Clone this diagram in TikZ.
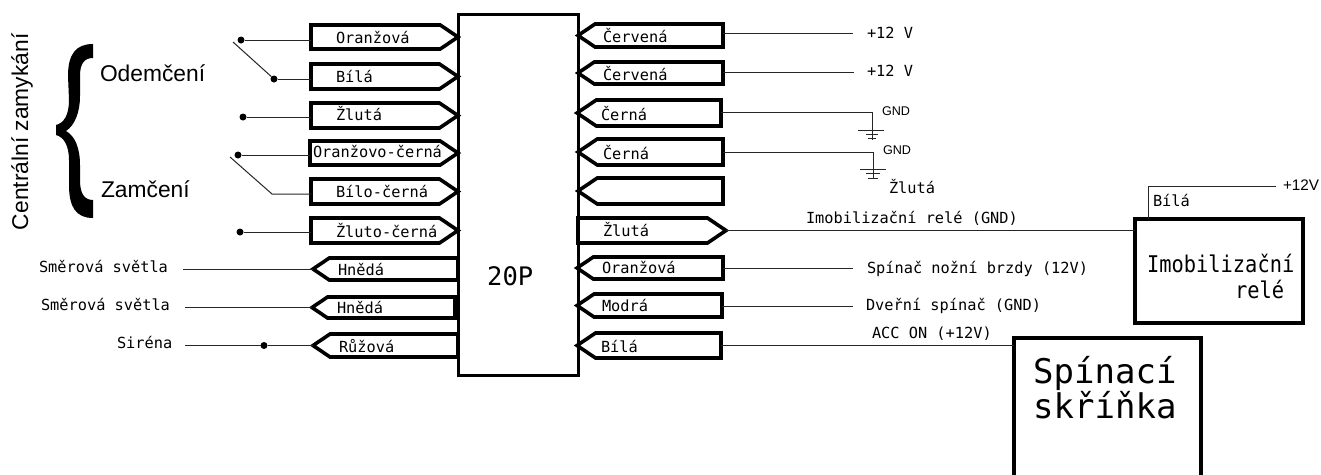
\documentclass[tikz,border=0pt]{standalone}
\usepackage{fontspec}
\setmainfont{Liberation Sans}
\setmonofont{DejaVu Sans Mono}
\usetikzlibrary{shapes.symbols,calc}
\tikzset{
  x=1pt,y=-1pt,
  sigbase/.style={shape=signal,draw=black,line width=3.6pt,fill=white,inner sep=0pt,outer sep=0pt,
     signal from=nowhere,signal pointer angle=68,miter limit=10},
  toE/.style={sigbase,signal to=east,anchor=east},
  toW/.style={sigbase,signal to=west,anchor=west},
  mono/.style={font=\ttfamily\fontsize{15.3}{18}\selectfont,anchor=base west,inner sep=0pt,outer sep=0pt},
  sans/.style={font=\fontsize{22.8}{26}\selectfont,anchor=base west,inner sep=0pt,outer sep=0pt},
  small/.style={font=\fontsize{12.6}{15}\selectfont,anchor=base west,inner sep=0pt,outer sep=0pt},
  wire/.style={draw=black!85,line width=1pt},
  dotn/.style={circle,fill=black,inner sep=0pt,outer sep=0pt,minimum size=7pt},
  heavy/.style={draw=black,line width=3.4pt,inner sep=0pt,outer sep=0pt,fill=white},
}
% name, x1, x2, ytop, ybot, text x, baseline y, text
\newcommand{\tagE}[8]{%
  \node[toE,minimum width=#3pt-#2pt,minimum height=#5pt-#4pt] (#1) at (#3,{(#4+#5)/2}) {};
  \node[mono] (#1t) at (#6,#7) {#8};
}
\newcommand{\tagW}[8]{%
  \node[toW,minimum width=#3pt-#2pt,minimum height=#5pt-#4pt] (#1) at (#2,{(#4+#5)/2}) {};
  \node[mono] (#1t) at (#6,#7) {#8};
}
\begin{document}
\begin{tikzpicture}
\clip (0,0) rectangle (1321,474);
\useasboundingbox (0,0) rectangle (1321,474);
\fill[white] (0,0) rectangle (1321,474);

% main connector
\node[heavy,minimum width=120pt,minimum height=361pt,line width=3pt] (main) at (518,194.5) {};
\node[font=\ttfamily\fontsize{25.5}{28}\selectfont,anchor=base west,inner sep=0pt] (mainl) at (487,285) {20P};

% left tags
\tagE{lA}{311}{458}{25}{49}{336}{43}{Oranžová}
\tagE{lB}{311}{458}{64}{89}{336}{82}{Bílá}
\tagE{lC}{311}{458}{103}{128}{336}{120}{Žlutá}
\tagE{lD}{310}{458}{141}{165}{313}{157}{Oranžovo-černá}
\tagE{lE}{311}{458}{179}{204}{336}{197}{Bílo-černá}
\tagE{lF}{311}{458}{218}{243}{336}{237}{Žluto-černá}
\tagW{lG}{313}{458}{258}{280}{338}{275}{Hnědá}
\tagW{lH}{312}{455}{297}{318}{337}{313}{Hnědá}
\tagW{lI}{313}{458}{334}{357}{339}{352}{Růžová}

% right tags
\tagW{rA}{578}{723}{24}{47}{603}{42}{Červená}
\tagW{rB}{578}{723}{62}{84}{603}{80}{Červená}
\tagW{rC}{577}{721}{100}{126}{601}{120}{Černá}
\tagW{rD}{578}{723}{139}{165}{603}{159}{Černá}
\node[toW,minimum width=145pt,minimum height=26pt] (rE) at (578,191) {};
\tagE{rF}{578}{726}{218}{243}{603}{236}{Žlutá}
\tagW{rG}{577}{723}{257}{279}{602}{273}{Oranžová}
\tagW{rH}{577}{722}{294}{317}{602}{311}{Modrá}
\tagW{rI}{577}{721}{333}{358}{601}{352}{Bílá}

% boxes
\node[heavy,minimum width=168pt,minimum height=104pt] (relay) at (1219,271) {};
\node[heavy,minimum width=187pt,minimum height=150pt] (switch) at (1107.5,413) {};
\node[font=\ttfamily\fontsize{23}{26}\selectfont,anchor=base west,inner sep=0pt] (relayA) at (1147,272) {\scalebox{.885}[1]{Imobilizační}};
\node[font=\ttfamily\fontsize{23}{26}\selectfont,anchor=base west,inner sep=0pt] (relayB) at (1235,298) {\scalebox{.885}[1]{relé}};
\node[font=\ttfamily\fontsize{34}{38}\selectfont,anchor=base west,inner sep=0pt] (swA) at (1033,383) {Spínací};
\node[font=\ttfamily\fontsize{34}{38}\selectfont,anchor=base west,inner sep=0pt] (swB) at (1033,418) {skříňka};

% left dots and wires
\node[dotn] (dA) at (241,40) {};
\node[dotn] (dB) at (274,79) {};
\node[dotn] (dC) at (243,117) {};
\node[dotn] (dD) at (238,155) {};
\node[dotn] (dF) at (240,232) {};
\node[dotn] (dI) at (264,345.5) {};
\coordinate (kA) at (233,42);
\coordinate (kD) at (230,157);
\coordinate (kE) at (272,194);
\coordinate (eG) at (183,269);
\coordinate (eH) at (185,307.5);
\coordinate (eI) at (185,345.5);
\draw[wire] (dA) -- (dA -| lA.west);
\draw[wire] (kA) -- (dB);
\draw[wire] (dB) -- (dB -| lB.west);
\draw[wire] (dC) -- (dC -| lC.west);
\draw[wire] (dD) -- (dD -| lD.west);
\draw[wire] (kD) -- (kE) -- (kE -| lE.west);
\draw[wire] (dF) -- (dF -| lF.west);
\draw[wire] (eG) -- (lG.west);
\draw[wire] (eH) -- (lH.west);
\draw[wire] (eI) -- (dI) -- (lI.west);

% right wires
\coordinate (eA) at (853,33);
\coordinate (eB) at (854,72);
\coordinate (gC) at (872,112);
\coordinate (gC2) at (872,140);
\coordinate (gD) at (873,152);
\coordinate (gD2) at (873,178);
\coordinate (eOr) at (853,268);
\coordinate (eMo) at (853,306);
\coordinate (kUp) at (1148,186);
\coordinate (kEnd) at (1276,186);
\draw[wire] (rA.east |- eA) -- (eA);
\draw[wire] (rB.east |- eB) -- (eB);
\draw[wire] (rC.east |- gC) -- (gC) -- (gC2);
\draw[wire] (858,130) -- (884,130) (866,134) -- (878,134) (868,138) -- (876,138);
\draw[wire] (rD.east) -- (gD) -- (gD2);
\draw[wire] (860,169) -- (886,169) (866,173) -- (880,173) (868,178) -- (878,178);
\draw[wire] (rF.east) -- (relay.west |- rF.east);
\draw[wire] (rG.east |- eOr) -- (eOr);
\draw[wire] (rH.east |- eMo) -- (eMo);
\draw[wire] (rI.east) -- (switch.west |- rI.east);
\draw[wire] (relay.north -| kUp) -- (kUp) -- (kEnd);

% labels
\node[mono] (t1) at (867,38) {+12 V};
\node[mono] (t2) at (867,76) {+12 V};
\node[small] (t3) at (882,115) {GND};
\node[small] (t4) at (883,154) {GND};
\node[mono] (t5) at (889,193) {Žlutá};
\node[mono] (t6) at (806,223) {Imobilizační relé (GND)};
\node[mono] (t7) at (867,273) {Spínač nožní brzdy (12V)};
\node[mono] (t8) at (866,310) {Dveřní spínač (GND)};
\node[mono] (t9) at (872,338) {ACC ON (+12V)};
\node[mono] (t10) at (1153,206) {Bílá};
\node[small,font=\fontsize{15.3}{18}\selectfont] (t11) at (1283,190) {+12V};
\node[mono] (t12) at (39,272) {Směrová světla};
\node[mono] (t13) at (41,310) {Směrová světla};
\node[mono] (t14) at (117,348) {Siréna};
\node[sans] (t15) at (100,81) {Odemčení};
\node[sans] (t16) at (101,197) {Zamčení};
\node[sans,rotate=90] (t17) at (28,230) {Centrální zamykání};

% brace
\fill[black] (93,44) .. controls (76,44) and (68,54) .. (68,76)
  -- (69,100) .. controls (69,115) and (64,123) .. (56,125)
  -- (56,135) .. controls (64,137) and (69,146) .. (69,160)
  -- (69,185) .. controls (69,207) and (76,218) .. (93,218)
  -- (93,200) .. controls (84,200) and (80,193) .. (80,180)
  -- (80,165) .. controls (80,148) and (75,136) .. (66,131)
  .. controls (75,125) and (80,112) .. (80,96)
  -- (80,76) .. controls (80,64) and (84,58) .. (93,58) -- cycle;
\end{tikzpicture}
\end{document}
